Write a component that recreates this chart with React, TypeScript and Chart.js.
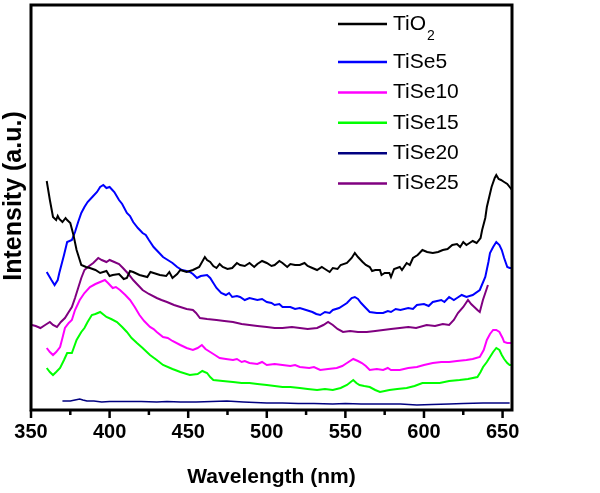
import React, { useEffect, useRef } from 'react';
import { Chart, registerables } from 'chart.js';
Chart.register(...registerables);

const FONT = '"Liberation Sans", Arial, sans-serif';

const xMin = 350;
const xMax = 656;
const xStep = 25;
const xLabelStep = 50;
const yMin = 0;
const yMax = 405;

const seriesNames = ['TiO₂', 'TiSe5', 'TiSe10', 'TiSe15', 'TiSe20', 'TiSe25'];
const seriesColors = ['#000000', '#0000ff', '#ff00ff', '#00ff00', '#000080', '#800080'];
const xTitle = 'Wavelength (nm)';
const yTitle = 'Intensity (a.u.)';

type P = [number, number];

const tio2: P[] = [
  [360, 229], [362, 210], [364, 193], [366, 190], [367, 194], [368, 191], [370, 188], [372, 192], [373, 190],
  [375, 187], [377, 175], [379, 160], [382, 145], [385, 143], [387.5, 142], [391, 140], [394, 137],
  [398, 139], [400, 134], [402, 135], [406, 136], [409, 131], [411, 132], [413, 139], [415, 138], [419, 135], [424, 133], [426, 138], [428, 137],
  [432, 135], [436, 134], [438, 138], [440, 132], [443, 136], [445, 140], [449, 138], [453, 140], [457, 143], [460.6, 153],
  [462, 150], [464, 148], [466, 144], [468, 142], [470, 146], [472, 143], [475, 141], [478, 142], [481, 147], [483, 145], [486, 144], [489, 147], [492, 143], [494, 146],
  [497, 149], [500, 147], [503, 144], [505, 145], [508, 149], [510, 147], [513, 143], [515, 146], [518, 145], [521, 145], [524, 147], [526, 144], [529, 142], [532, 140], [535, 143], [537, 141],
  [540, 138], [542, 142], [545, 141], [547, 145], [551, 147], [554, 152], [556, 157], [558, 153], [561, 148], [563, 145], [565.5, 143], [567, 139], [569, 140],
  [572, 140], [573, 135], [575, 137], [578, 137], [579, 133], [581, 141], [584.6, 143], [586, 140], [589, 147], [591, 145], [593, 152], [596, 155],
  [599, 160], [602, 158], [605.6, 157], [609, 158], [612, 160], [615, 161], [618, 165], [621, 166],
  [623, 163], [625, 168], [627, 165], [629, 167], [631, 169], [633.5, 167], [636, 172], [637, 180], [639, 192], [640, 203], [641.5, 213],
  [643, 223], [645, 232], [646, 235], [647.5, 231], [649, 230], [651, 228], [653, 226], [654.5, 223],
  [656, 220],
];

const tiSe5: P[] = [
  [360, 138], [363, 130], [365, 125], [367, 130], [368, 137], [371, 155], [373, 168], [376, 170],
  [378, 178], [380, 188], [382, 197], [384, 203], [386, 208], [389, 213], [392, 218], [394, 223],
  [396, 225], [398, 222], [400, 223], [403, 218], [406, 210], [408, 206], [411, 197], [413, 194], [415, 188],
  [418, 182], [421, 177], [423, 175], [425, 170], [428, 163], [431, 158], [434, 153], [437, 150], [440, 147],
  [443, 143], [446, 140], [449, 139], [451, 138], [453, 136], [455.6, 132], [458, 134], [462, 135],
  [464, 132], [466, 127], [468, 122], [471, 117], [474, 115], [476, 117], [478, 113], [481, 114], [483, 113], [486, 110], [489, 112],
  [494, 110], [497, 111], [500, 108], [503, 107], [505, 105], [508, 106], [510, 103], [515, 103], [518, 101], [521, 102], [525, 100], [529, 98],
  [531.5, 96], [534, 95], [537, 98], [540, 97], [542, 100], [546, 102], [551, 107], [554, 112], [556, 113],
  [558, 111], [560, 107], [563, 102], [565.5, 98], [570, 97], [574, 97], [577, 99], [579, 98], [582, 101], [585, 100],
  [590, 102], [593, 101], [595.5, 105], [600, 106], [603, 104], [605.6, 108], [611, 110], [613, 108], [616, 113], [619, 110], [621, 112], [624, 115], [627, 113],
  [631, 115], [635.5, 120], [639, 133], [641, 148], [642, 157], [644, 163], [646, 168], [648, 165],
  [649.5, 160], [651, 152], [653, 143], [654.5, 142], [656, 142],
];

const tiSe10: P[] = [
  [360, 62], [362, 58], [364, 55], [366, 58], [368.5, 63], [370, 72], [371.6, 82], [374, 87],
  [376, 90], [378, 100], [381, 110], [384, 117], [387.5, 123], [391, 126], [394, 128], [397, 130],
  [399, 127], [402, 122], [404, 123], [406.6, 120], [410, 115], [413, 110], [416, 103], [419, 95],
  [422, 89], [425.7, 83], [428, 81], [430, 78], [434, 73], [437, 72], [440, 69], [445, 65], [449, 62], [453, 60],
  [456, 62], [458.7, 65], [461, 61], [464, 58], [467, 55], [470, 52], [474, 51], [478.5, 50],
  [481, 51], [484, 48], [486, 49], [489, 47], [494, 46], [497, 48], [500, 45], [505, 46], [510, 45], [515, 44], [518, 45], [521, 43],
  [527, 42], [530, 43], [534, 40], [539, 41], [544.5, 42], [548, 44], [551, 47], [555, 51], [558, 49],
  [560.5, 47], [563, 44], [565.5, 40], [570, 41], [574, 40], [577, 42], [579, 40], [584.6, 40], [590, 42],
  [595.5, 43], [600, 45], [605.6, 47], [611, 48], [616, 48], [621, 49], [627, 50], [631, 51],
  [635.5, 53], [638, 60], [640, 70], [642, 76], [644, 80], [646, 80], [648, 78], [650, 72],
  [651, 68], [653, 67], [654.5, 67], [656, 67],
];

const tiSe15: P[] = [
  [360, 42], [362, 38], [364, 35], [366, 38], [368.5, 42], [371, 50], [373, 57], [376, 57],
  [379, 70], [382, 78], [384, 82], [386, 88], [388.7, 95], [391, 96], [394, 98], [398, 93],
  [401, 91], [404.7, 88], [408, 83], [411, 78], [414, 72], [417.4, 67], [421, 62], [425.7, 55],
  [430, 50], [434, 45], [440, 41], [445, 38], [451, 35], [456, 36], [459, 39], [462, 37], [464, 33],
  [466, 30], [472, 29], [478.5, 28], [484, 27], [489, 27], [494, 26], [500, 25], [505, 24],
  [510, 23], [515, 23], [521, 22], [526, 21], [532, 20], [537, 21], [542, 20], [547, 22],
  [551, 25], [555, 30], [557, 27], [559, 25], [562, 24], [565.5, 23], [569, 20], [572, 18],
  [575, 19], [578, 20], [583, 21], [589, 22], [594, 24], [599, 27], [605, 27], [610, 27],
  [616, 29], [622.7, 30], [628, 31], [634, 33], [636, 38], [637.6, 43], [640, 48], [642, 53],
  [644, 58], [646, 62], [648, 60], [649.5, 55], [651, 51], [653, 47], [654.5, 45], [656, 45],
];

const tiSe20: P[] = [
  [370, 9], [375, 9], [378, 10], [381, 11], [383, 10], [385.6, 9], [390, 9], [395, 8],
  [400, 8.5], [410, 8.5], [420, 8.5], [430, 8], [436.5, 8.5], [445, 8], [455, 8], [465, 8.5],
  [474.6, 9], [485, 8], [500, 7], [510, 7], [520, 6.5], [530, 6.5], [542, 6], [550, 6.5],
  [560, 6], [574, 6], [585, 6], [595.5, 5], [605, 5.5], [616, 6], [625, 6.5], [637.6, 7],
  [645, 7], [654.5, 7],
];

const tiSe25: P[] = [
  [350.6, 85], [353, 84], [356, 82], [359, 85], [362, 88], [364, 85], [366.5, 83], [369, 88],
  [371.6, 92], [374, 98], [376, 103], [378, 112], [380, 122], [382, 132], [384, 140], [387, 144],
  [389.6, 147], [392.8, 152], [395, 150], [398, 148], [400, 150], [403, 148], [406, 146], [408.5, 142],
  [412, 136], [415, 130], [418, 125], [421, 120], [425, 116], [430, 112], [433, 110], [436.5, 108],
  [441, 105], [445, 103], [449, 101], [453, 100], [455, 97], [457.5, 92], [462, 91], [468, 90],
  [473, 89], [478.5, 88], [484, 86], [489, 85], [494, 84], [500, 83], [505, 82], [510, 82],
  [516, 83], [521, 82], [526, 81], [532, 82], [536, 85], [539, 88], [542, 85], [545, 81],
  [548.5, 78], [553, 79], [558, 78], [563.6, 78], [569, 79], [574, 80], [579, 81], [584.6, 82],
  [590, 83], [595, 82], [601.7, 85], [607, 84], [612, 86], [616, 85], [619, 90], [621.6, 97],
  [625, 103], [628, 110], [630, 106], [632, 103], [634, 100], [635.5, 98], [637.5, 110], [639, 117],
  [640.7, 125],
];

const seriesData: P[][] = [tio2, tiSe5, tiSe10, tiSe15, tiSe20, tiSe25];

const framePlugin = {
  id: 'frameAndLegend',
  afterDraw(chart: any) {
    const { ctx, chartArea } = chart;
    const xs = chart.scales.x;
    ctx.save();
    ctx.strokeStyle = '#000';
    ctx.lineWidth = 3;
    ctx.strokeRect(chartArea.left, chartArea.top, chartArea.right - chartArea.left, chartArea.bottom - chartArea.top);
    ctx.lineWidth = 2.5;
    for (const t of xs.ticks) {
      const px = xs.getPixelForValue(t.value);
      const len = t.value % xLabelStep === 0 ? 8 : 5;
      ctx.beginPath();
      ctx.moveTo(px, chartArea.bottom);
      ctx.lineTo(px, chartArea.bottom + len);
      ctx.stroke();
    }
    ctx.save();
    ctx.translate(14, 196);
    ctx.rotate(-Math.PI / 2);
    ctx.fillStyle = '#000';
    ctx.font = `bold 25px ${FONT}`;
    ctx.textAlign = 'center';
    ctx.textBaseline = 'middle';
    ctx.fillText(yTitle, 0, 0);
    ctx.restore();
    const lineX0 = 338;
    const lineX1 = 387;
    const textX = 393;
    chart.data.datasets.forEach((ds: any, i: number) => {
      const y = i === 0 ? 24 : 62 + (i - 1) * 30.4;
      ctx.strokeStyle = ds.borderColor;
      ctx.lineWidth = 2.5;
      ctx.beginPath();
      ctx.moveTo(lineX0, y);
      ctx.lineTo(lineX1, y);
      ctx.stroke();
      ctx.fillStyle = '#000';
      ctx.textBaseline = 'middle';
      ctx.textAlign = 'left';
      const label: string = ds.label;
      const subIdx = label.indexOf('₂');
      ctx.font = `21px ${FONT}`;
      if (subIdx >= 0) {
        const base = label.slice(0, subIdx);
        ctx.fillText(base, textX, y);
        const w = ctx.measureText(base).width;
        ctx.font = `14px ${FONT}`;
        ctx.fillText('2', textX + w + 1, y + 12);
      } else {
        ctx.fillText(label, textX, y);
      }
    });
    ctx.restore();
  },
};

export default function App() {
  const ref = useRef<HTMLCanvasElement | null>(null);
  useEffect(() => {
    if (!ref.current) return;
    const chart = new Chart(ref.current, {
      type: 'line',
      data: {
        datasets: seriesData.map((d, i) => ({
          label: seriesNames[i],
          data: d.map(([x, y]) => ({ x, y })),
          borderColor: seriesColors[i],
          backgroundColor: seriesColors[i],
          borderWidth: i === 4 ? 1.6 : 2,
          pointRadius: 0,
          tension: 0,
          fill: false,
        })),
      },
      options: {
        animation: false,
        responsive: false,
        maintainAspectRatio: false,
        layout: { padding: { left: 31, top: 5, right: 88, bottom: 3 } },
        plugins: { legend: { display: false }, tooltip: { enabled: false } },
        scales: {
          x: {
            type: 'linear',
            min: xMin,
            max: xMax,
            afterFit: (s: any) => { s.height = 80; },
            border: { display: false },
            grid: { display: false, drawTicks: false },
            ticks: {
              stepSize: xStep,
              includeBounds: false,
              autoSkip: false,
              maxRotation: 0,
              padding: 10,
              color: '#000',
              font: { family: FONT, size: 20, weight: 'bold' },
              callback: (v: any) => (Number(v) % xLabelStep === 0 ? String(v) : ''),
            },
            title: {
              display: true,
              text: xTitle,
              color: '#000',
              font: { family: FONT, size: 21, weight: 'bold' },
              padding: 0,
            },
          },
          y: {
            display: false,
            min: yMin,
            max: yMax,
          },
        },
      },
      plugins: [framePlugin],
    } as any);
    return () => chart.destroy();
  }, []);
  return (
    <div style={{ position: 'absolute', left: 0, top: 0, width: 600, height: 493, background: '#fff' }}>
      <canvas ref={ref} width={600} height={493} />
    </div>
  );
}
